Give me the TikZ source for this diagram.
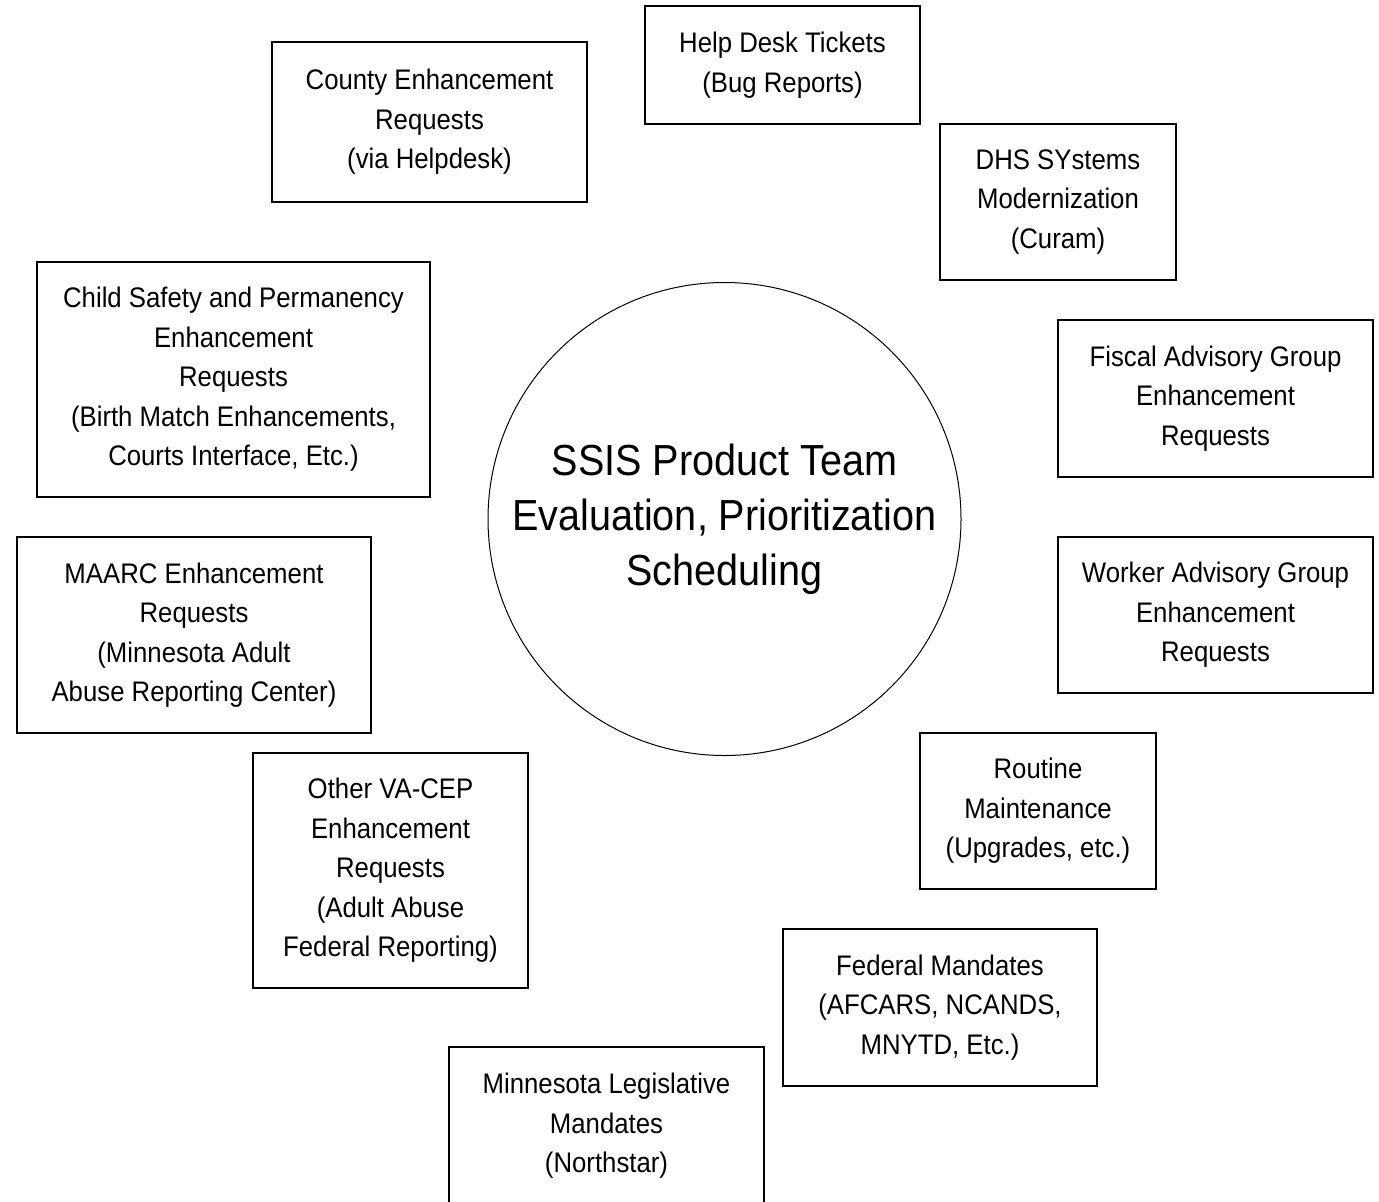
\documentclass[tikz,border=0pt]{standalone}
\usepackage{fontspec}
\setmainfont{Liberation Sans}
\newfontfamily\boxfont[FakeStretch=0.91]{Liberation Sans}
\newfontfamily\hubfont[FakeStretch=0.91]{Liberation Sans}
\begin{document}
\begin{tikzpicture}[x=1pt,y=-1pt,
  inbox/.style={draw=black,line width=1.1pt,rectangle,align=center,inner sep=0pt,
    font=\boxfont\fontsize{28.3}{39.5}\selectfont},
  hub/.style={draw=black,line width=1pt,circle,minimum size=473pt,inner sep=0pt,align=center,
    font=\hubfont\fontsize{43.5}{55}\selectfont}]
\useasboundingbox (0,0) rectangle (1379,1202);
\node[hub] (hub) at (724.5,519) {SSIS Product Team\\Evaluation, Prioritization\\Scheduling};
\node[inbox,minimum width=275pt,minimum height=118pt] (hd) at (782.5,65) {Help Desk Tickets\\(Bug Reports)};
\node[inbox,minimum width=315pt,minimum height=160pt] (county) at (429.5,122) {County Enhancement\\Requests\\(via Helpdesk)};
\node[inbox,minimum width=236pt,minimum height=156pt] (dhs) at (1058,202) {DHS SYstems\\Modernization\\(Curam)};
\node[inbox,minimum width=393pt,minimum height=235pt] (child) at (233.5,379.5) {Child Safety and Permanency\\Enhancement\\Requests\\(Birth Match Enhancements,\\Courts Interface, Etc.)};
\node[inbox,minimum width=315pt,minimum height=157pt] (fiscal) at (1215.5,398.5) {Fiscal Advisory Group\\Enhancement\\Requests};
\node[inbox,minimum width=315pt,minimum height=156pt] (worker) at (1215.5,615) {Worker Advisory Group\\Enhancement\\Requests};
\node[inbox,minimum width=354pt,minimum height=196pt] (maarc) at (194,635) {MAARC Enhancement\\Requests\\(Minnesota Adult\\Abuse Reporting Center)};
\node[inbox,minimum width=236pt,minimum height=156pt] (routine) at (1038,811) {Routine\\Maintenance\\(Upgrades, etc.)};
\node[inbox,minimum width=275pt,minimum height=235pt] (other) at (390.5,870.5) {Other VA-CEP\\Enhancement\\Requests\\(Adult Abuse\\Federal Reporting)};
\node[inbox,minimum width=314pt,minimum height=157pt] (federal) at (940,1007.5) {Federal Mandates\\(AFCARS, NCANDS,\\MNYTD, Etc.)};
\node[inbox,minimum width=315pt,minimum height=158pt] (mn) at (606.5,1126) {Minnesota Legislative\\Mandates\\(Northstar)};
\end{tikzpicture}
\end{document}
